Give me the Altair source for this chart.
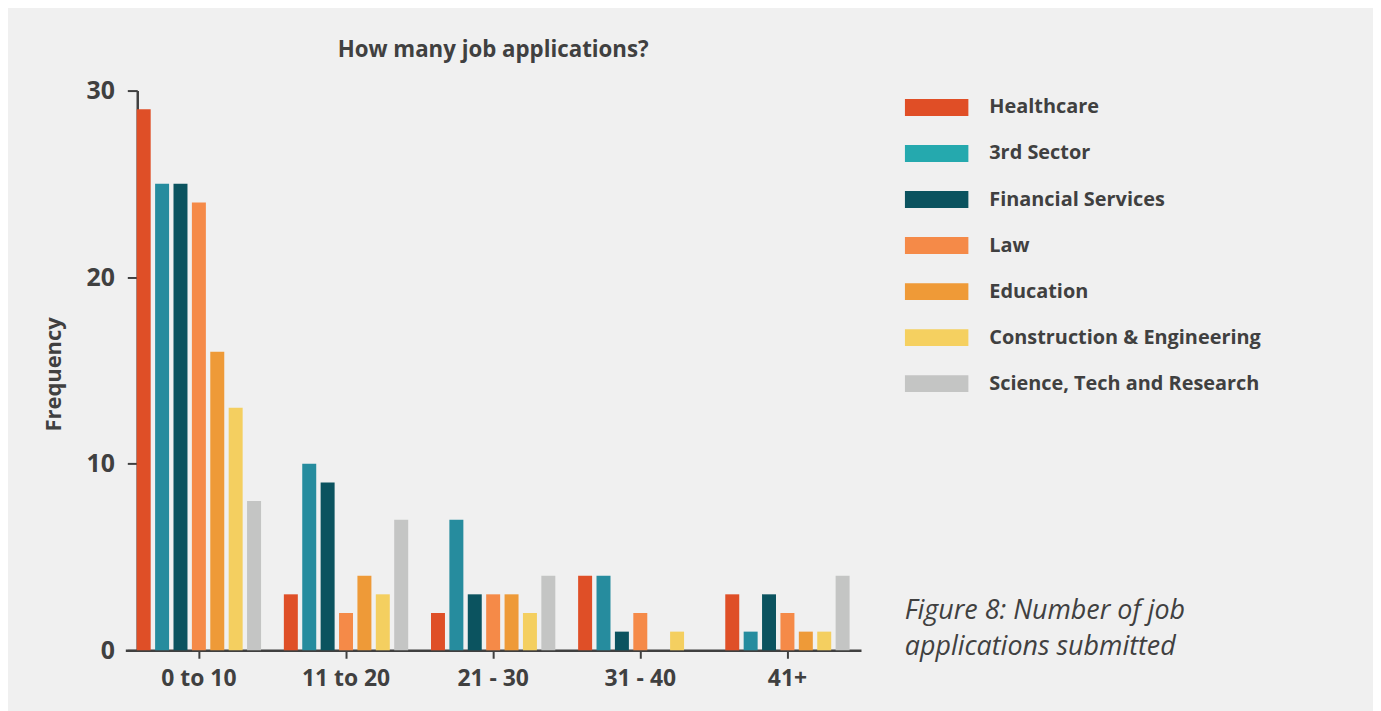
import altair as alt
import pandas as pd

categories = ["0 to 10", "11 to 20", "21 - 30", "31 - 40", "41+"]
sectors = ["Healthcare", "3rd Sector", "Financial Services", "Law", "Education",
           "Construction & Engineering", "Science, Tech and Research"]
bar_colors = ["#DF4F27", "#268C9E", "#0B535F", "#F58A48", "#EE9A38", "#F4CF60", "#C4C5C4"]
legend_colors = ["#E04E26", "#25A9AE", "#0B535F", "#F58A48", "#EF9A37", "#F5D060", "#C4C5C4"]

healthcare = [29, 3, 2, 4, 3]
third_sector = [25, 10, 7, 4, 1]
financial = [25, 9, 3, 1, 3]
law = [24, 2, 3, 2, 2]
education = [16, 4, 3, 0, 1]
construction = [13, 3, 2, 1, 1]
science = [8, 7, 4, 0, 4]

series = [healthcare, third_sector, financial, law, education, construction, science]
y_ticks = [0, 10, 20, 30]
title_text = "How many job applications?"
caption_lines = ["Figure 8: Number of job", "applications submitted"]

rows = []
for s, vals in zip(sectors, series):
    for c, v in zip(categories, vals):
        rows.append({"range": c, "sector": s, "freq": v})
df = pd.DataFrame(rows)

FONT = "Open Sans"
INK = "#404040"

x_enc = alt.X("range:N", sort=categories,
              scale=alt.Scale(paddingInner=0.155, paddingOuter=0.0775),
              axis=alt.Axis(title=None, labelAngle=0, labelFontSize=23, labelFont=FONT,
                            labelFontWeight="bold", labelColor=INK, domainColor=INK,
                            domainWidth=2.5, tickColor=INK, tickWidth=2, tickSize=8,
                            labelPadding=9))
xoff_enc = alt.XOffset("sector:N", sort=sectors,
                       scale=alt.Scale(paddingInner=0.24, paddingOuter=0))
y_enc = alt.Y("freq:Q", scale=alt.Scale(domain=[0, 30], nice=False),
              axis=alt.Axis(title="Frequency", values=y_ticks, grid=False, offset=-12,
                            labelFontSize=25, labelFont=FONT, labelFontWeight="bold",
                            labelColor=INK, domainColor=INK, domainWidth=2.5,
                            tickColor=INK, tickWidth=2, tickSize=10, labelPadding=13,
                            titleFont=FONT, titleFontSize=22, titleFontWeight="bold",
                            titleColor=INK, titleX=-84, titleY=285, titleBaseline="middle"))

bars = alt.Chart(df).mark_bar().encode(
    x=x_enc, xOffset=xoff_enc, y=y_enc,
    color=alt.Color("sector:N", sort=sectors,
                    scale=alt.Scale(domain=sectors, range=bar_colors), legend=None),
)

legend_layer = alt.Chart(df).mark_bar(opacity=0).encode(
    x=x_enc, xOffset=xoff_enc, y=y_enc,
    fill=alt.Fill("sector:N", sort=sectors,
                  scale=alt.Scale(domain=sectors, range=legend_colors),
                  legend=alt.Legend(title=None, orient="none", legendX=784, legendY=3,
                                    symbolType="M-1,-0.266L1,-0.266L1,0.266L-1,0.266Z",
                                    symbolSize=4096, symbolStrokeWidth=0,
                                    symbolOpacity=1,
                                    clipHeight=28, rowPadding=18.3, labelOffset=21,
                                    labelFont=FONT, labelFontSize=20,
                                    labelFontWeight="bold", labelColor=INK,
                                    labelLimit=400, padding=0)),
)

caption = alt.Chart(pd.DataFrame({"k": [0]})).mark_text(
    text=caption_lines, align="left", baseline="top", font=FONT, fontSize=27,
    fontStyle="italic", color=INK, lineHeight=36,
).encode(x=alt.value(784), y=alt.value(511))

chart = alt.layer(bars, legend_layer, caption).resolve_scale(
    color="independent", fill="independent"
).properties(
    width=740, height=563,
    title=alt.Title(title_text, anchor="middle", fontSize=22.4, font=FONT,
                    fontWeight="bold", color=INK, offset=17),
    autosize=alt.AutoSizeParams(type="none"),
    padding={"left": 118, "top": 81, "right": 515, "bottom": 59},
).configure(background="#F0F0F0").configure_view(stroke=None)

chart.save("out.html", embed_options={"renderer": "svg", "actions": False})
